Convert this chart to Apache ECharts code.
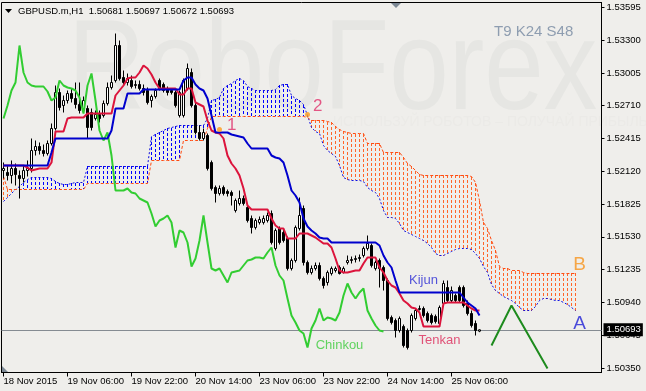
<!DOCTYPE html>
<html><head><meta charset="utf-8">
<script src="https://cdn.jsdelivr.net/npm/echarts@6/dist/echarts.min.js"></script>
<style>html,body{margin:0;padding:0;background:#efeeeb}#c{width:646px;height:391px}</style>
</head><body><div id="c"></div>
<script>
// ---------- data ----------
const barCount = 150;
const categories = Array.from({length: barCount}, (_, i) => String(i));
const timeTickIndex = [0, 16, 32, 48, 64, 80, 96, 112];
const timeTickLabels = ['18 Nov 2015', '19 Nov 06:00', '19 Nov 22:00', '20 Nov 14:00', '23 Nov 06:00', '23 Nov 22:00', '24 Nov 14:00', '25 Nov 06:00'];
const priceTicks = [1.50350, 1.50645, 1.50940, 1.51235, 1.51530, 1.51825, 1.52120, 1.52415, 1.52710, 1.53005, 1.53300, 1.53595];
const lastPrice = 1.50693;

// [open, close, low, high]
const ohlc = [
[1.52127,1.52145,1.52055,1.52199],[1.52109,1.52082,1.52037,1.52172],[1.52082,1.52145,1.52010,1.52217],[1.52145,1.52091,1.51992,1.52190],
[1.52082,1.52055,1.51875,1.52127],[1.52055,1.52127,1.52019,1.52172],[1.52127,1.52145,1.52073,1.52217],[1.52145,1.52307,1.52109,1.52415],
[1.52307,1.52343,1.52262,1.52397],[1.52343,1.52307,1.52271,1.52379],[1.52307,1.52280,1.52253,1.52361],[1.52280,1.52370,1.52262,1.52397],
[1.52370,1.52505,1.52352,1.52550],[1.52505,1.52829,1.52487,1.52892],[1.52829,1.52694,1.52667,1.52865],[1.52712,1.52757,1.52649,1.52802],
[1.52757,1.52820,1.52730,1.52847],[1.52820,1.52775,1.52739,1.52865],[1.52775,1.52721,1.52685,1.52919],[1.52721,1.52667,1.52640,1.52919],
[1.52685,1.52757,1.52649,1.52793],[1.52685,1.52514,1.52415,1.52712],[1.52649,1.52514,1.52487,1.52685],[1.52595,1.52631,1.52577,1.52667],
[1.52631,1.52595,1.52559,1.52667],[1.52622,1.52730,1.52604,1.52757],[1.52730,1.52874,1.52712,1.52919],[1.52874,1.52919,1.52856,1.52982],
[1.52937,1.53252,1.52919,1.53360],[1.53252,1.52955,1.52937,1.53297],[1.52964,1.52919,1.52892,1.53027],[1.52919,1.52955,1.52892,1.53000],
[1.52937,1.52883,1.52865,1.52982],[1.52892,1.52901,1.52865,1.52937],[1.52901,1.52865,1.52847,1.52937],[1.52865,1.52829,1.52802,1.52901],
[1.52847,1.52739,1.52721,1.52874],[1.52757,1.52793,1.52694,1.52811],[1.52793,1.52847,1.52775,1.52865],[1.52937,1.52865,1.52847,1.52955],
[1.52901,1.52847,1.52829,1.52919],[1.52865,1.52829,1.52802,1.52883],[1.52847,1.52829,1.52811,1.52865],[1.52829,1.52712,1.52694,1.52847],
[1.52622,1.52829,1.52604,1.52847],[1.52622,1.52937,1.52604,1.52955],[1.52865,1.53045,1.52847,1.53090],[1.53009,1.52712,1.52694,1.53045],
[1.52712,1.52469,1.52451,1.52739],[1.52469,1.52415,1.52397,1.52532],[1.52415,1.52469,1.52397,1.52505],[1.52442,1.52145,1.52127,1.52460],
[1.52199,1.51965,1.51947,1.52217],[1.51974,1.51920,1.51839,1.51992],[1.51920,1.51965,1.51902,1.51992],[1.51974,1.51920,1.51902,1.51992],
[1.51938,1.51920,1.51893,1.51956],[1.51929,1.51902,1.51812,1.51947],[1.51767,1.51857,1.51749,1.51875],[1.51830,1.51875,1.51812,1.51947],
[1.51875,1.51830,1.51812,1.51902],[1.51794,1.51677,1.51659,1.51812],[1.51695,1.51614,1.51560,1.51722],[1.51614,1.51677,1.51596,1.51695],
[1.51659,1.51686,1.51641,1.51713],[1.51659,1.51695,1.51641,1.51722],[1.51677,1.51722,1.51659,1.51749],[1.51740,1.51479,1.51461,1.51767],
[1.51425,1.51587,1.51407,1.51605],[1.51605,1.51479,1.51461,1.51623],[1.51569,1.51497,1.51479,1.51605],[1.51515,1.51245,1.51227,1.51533],
[1.51245,1.51317,1.51227,1.51335],[1.51317,1.51614,1.51299,1.51632],[1.51605,1.51722,1.51587,1.51884],[1.51785,1.51299,1.51272,1.51812],
[1.51299,1.51209,1.51191,1.51317],[1.51209,1.51245,1.51191,1.51272],[1.51245,1.51272,1.51227,1.51299],[1.51272,1.51155,1.51137,1.51299],
[1.51155,1.51092,1.51065,1.51173],[1.51119,1.51209,1.51092,1.51227],[1.51200,1.51245,1.51182,1.51263],[1.51227,1.51245,1.51209,1.51263],
[1.51254,1.51200,1.51191,1.51272],[1.51209,1.51245,1.51200,1.51263],[1.51299,1.51317,1.51281,1.51362],[1.51317,1.51326,1.51290,1.51353],
[1.51326,1.51335,1.51299,1.51362],[1.51335,1.51344,1.51308,1.51371],[1.51362,1.51425,1.51344,1.51443],[1.51425,1.51470,1.51407,1.51542],
[1.51452,1.51272,1.51254,1.51470],[1.51245,1.51299,1.51227,1.51317],[1.51317,1.51245,1.51074,1.51335],[1.51254,1.51137,1.51047,1.51272],
[1.51137,1.50795,1.50777,1.51155],[1.50804,1.50759,1.50741,1.50822],[1.50777,1.50687,1.50624,1.50795],[1.50687,1.50795,1.50669,1.50813],
[1.50723,1.50552,1.50534,1.50741],[1.50687,1.50534,1.50516,1.50705],[1.50687,1.50822,1.50669,1.50840],[1.50795,1.50867,1.50777,1.50885],
[1.50876,1.50885,1.50867,1.50912],[1.50885,1.50822,1.50804,1.50903],[1.50840,1.50777,1.50759,1.50858],[1.50822,1.50759,1.50741,1.50840],
[1.50813,1.50768,1.50750,1.50831],[1.50750,1.50894,1.50732,1.50912],[1.50930,1.51110,1.50912,1.51137],[1.51074,1.50957,1.50939,1.51137],
[1.50957,1.51047,1.50939,1.51083],[1.51002,1.50957,1.50939,1.51020],[1.51074,1.50957,1.50939,1.51092],[1.51074,1.50912,1.50894,1.51092],
[1.50930,1.50840,1.50822,1.50957],[1.50840,1.50732,1.50714,1.50867],[1.50750,1.50687,1.50642,1.50777],[1.50681,1.50693,1.50672,1.50697]
];

const tenkan = [
1.52172,1.52172,1.52172,1.52172,1.52172,1.52172,1.52154,1.52127,1.52136,1.52145,1.52145,1.52145,1.52199,1.52478,1.52478,1.52478,
1.52595,1.52604,1.52604,1.52604,1.52604,1.52640,1.52640,1.52640,1.52640,1.52640,1.52640,1.52640,1.52802,1.52847,1.52892,1.52955,
1.52964,1.52964,1.53009,1.53072,1.53045,1.52991,1.52919,1.52865,1.52865,1.52865,1.52865,1.52865,1.52811,1.52811,1.52865,1.52865,
1.52739,1.52721,1.52703,1.52577,1.52487,1.52469,1.52460,1.52415,1.52262,1.52190,1.52145,1.52082,1.51965,1.51812,1.51776,1.51776,
1.51776,1.51776,1.51776,1.51695,1.51632,1.51605,1.51605,1.51515,1.51515,1.51515,1.51560,1.51560,1.51560,1.51542,1.51524,1.51497,
1.51470,1.51470,1.51434,1.51335,1.51227,1.51209,1.51209,1.51218,1.51227,1.51227,1.51290,1.51344,1.51344,1.51344,1.51254,1.51209,
1.51137,1.51092,1.51074,1.51020,1.50957,1.50930,1.50894,1.50885,1.50849,1.50723,1.50723,1.50723,1.50723,1.50723,1.50930,1.50939,
1.50939,1.50939,1.50939,1.50939,1.50912,1.50885,1.50867,1.50867
];

const kijun = [
1.52172,1.52172,1.52172,1.52172,1.52172,1.52172,1.52172,1.52172,1.52172,1.52172,1.52172,1.52172,1.52289,1.52415,1.52415,1.52415,
1.52415,1.52415,1.52415,1.52415,1.52415,1.52415,1.52415,1.52415,1.52415,1.52415,1.52415,1.52487,1.52685,1.52685,1.52685,1.52820,
1.52820,1.52820,1.52820,1.52856,1.52856,1.52856,1.52856,1.52856,1.52856,1.52856,1.52856,1.52856,1.52856,1.52937,1.52964,1.52964,
1.52901,1.52865,1.52847,1.52775,1.52622,1.52469,1.52469,1.52469,1.52469,1.52451,1.52442,1.52433,1.52424,1.52370,1.52325,1.52325,
1.52325,1.52325,1.52325,1.52262,1.52244,1.52235,1.52199,1.52082,1.51947,1.51902,1.51839,1.51695,1.51623,1.51587,1.51560,1.51524,
1.51515,1.51515,1.51479,1.51479,1.51479,1.51479,1.51479,1.51479,1.51479,1.51479,1.51479,1.51479,1.51479,1.51479,1.51452,1.51362,
1.51299,1.51254,1.51137,1.51029,1.51029,1.51029,1.51029,1.51029,1.51029,1.51029,1.51029,1.51029,1.51029,1.51029,1.51029,1.51029,
1.51029,1.51029,1.51029,1.50984,1.50939,1.50912,1.50885,1.50822
];

const chinkou = [
1.52595,1.52712,1.52847,1.52919,1.53252,1.53009,1.52919,1.52892,1.52883,1.52883,1.52883,1.52838,1.52757,1.52784,1.52937,1.52892,
1.52874,1.52865,1.52847,1.52784,1.52640,1.52892,1.53000,1.52757,1.52487,1.52397,1.52469,1.52262,1.51947,1.51947,1.51947,1.51965,
1.51929,1.51920,1.51875,1.51857,1.51839,1.51740,1.51623,1.51677,1.51695,1.51722,1.51659,1.51434,1.51587,1.51569,1.51479,1.51263,
1.51335,1.51497,1.51722,1.51479,1.51245,1.51227,1.51245,1.51182,1.51119,1.51209,1.51218,1.51227,1.51272,1.51317,1.51326,1.51344,
1.51344,1.51335,1.51389,1.51434,1.51272,1.51182,1.51137,1.50975,1.50822,1.50759,1.50687,1.50660,1.50534,1.50705,1.50777,1.50885,
1.50777,1.50804,1.50795,1.50777,1.50849,1.51002,1.51110,1.51029,1.50975,1.51029,1.51065,1.50867,1.50795,1.50732,1.50687,1.50678
];

const spanA = [
1.51848,1.51884,1.51920,1.51956,1.51983,1.52019,1.52046,1.52064,1.52064,1.52064,1.52064,1.52064,1.52055,1.52028,1.52010,1.52001,
1.52001,1.52010,1.52019,1.52019,1.52019,1.52163,1.52163,1.52163,1.52163,1.52163,1.52163,1.52163,1.52163,1.52163,1.52163,1.52163,
1.52163,1.52163,1.52163,1.52163,1.52163,1.52433,1.52451,1.52469,1.52487,1.52505,1.52514,1.52523,1.52532,1.52532,1.52532,1.52532,
1.52532,1.52532,1.52532,1.52595,1.52757,1.52766,1.52784,1.52865,1.52892,1.52910,1.52937,1.52955,1.52937,1.52883,1.52865,1.52847,
1.52847,1.52847,1.52847,1.52847,1.52856,1.52892,1.52901,1.52901,1.52802,1.52775,1.52757,1.52721,1.52622,1.52514,1.52478,1.52460,
1.52352,1.52307,1.52280,1.52253,1.52172,1.52064,1.52046,1.52037,1.52037,1.52037,1.52028,1.51974,1.51947,1.51929,1.51875,1.51767,
1.51704,1.51704,1.51695,1.51650,1.51587,1.51569,1.51551,1.51533,1.51515,1.51497,1.51470,1.51434,1.51380,1.51362,1.51362,1.51380,
1.51398,1.51416,1.51425,1.51425,1.51425,1.51416,1.51380,1.51335,1.51263,1.51209,1.51101,1.51047,1.51020,1.50993,1.50975,1.50957,
1.50930,1.50894,1.50867,1.50867,1.50867,1.50903,1.50957,1.50975,1.50975,1.50966,1.50957,1.50957,1.50939,1.50921,1.50894,1.50867
];

const spanB = [
1.52073,1.51956,1.51956,1.51956,1.51956,1.51956,1.51956,1.51956,1.51956,1.51956,1.51956,1.51956,1.51956,1.51956,1.51956,1.51956,
1.51956,1.51956,1.51956,1.51956,1.51956,1.52010,1.52010,1.52010,1.52010,1.52010,1.52010,1.52010,1.52010,1.52010,1.52010,1.52010,
1.52010,1.52010,1.52010,1.52010,1.52010,1.52217,1.52217,1.52217,1.52217,1.52217,1.52217,1.52217,1.52217,1.52397,1.52397,1.52397,
1.52397,1.52397,1.52397,1.52505,1.52613,1.52613,1.52613,1.52613,1.52613,1.52613,1.52613,1.52613,1.52613,1.52613,1.52613,1.52613,
1.52613,1.52613,1.52613,1.52613,1.52613,1.52613,1.52613,1.52613,1.52613,1.52613,1.52613,1.52613,1.52604,1.52577,1.52577,1.52577,
1.52577,1.52568,1.52559,1.52523,1.52496,1.52478,1.52469,1.52460,1.52460,1.52460,1.52460,1.52370,1.52370,1.52370,1.52370,1.52289,
1.52289,1.52289,1.52289,1.52289,1.52244,1.52190,1.52163,1.52127,1.52091,1.52082,1.52082,1.52082,1.52082,1.52082,1.52082,1.52082,
1.52082,1.52082,1.52082,1.52082,1.52082,1.52073,1.52019,1.51857,1.51659,1.51605,1.51497,1.51407,1.51263,1.51245,1.51245,1.51227,
1.51227,1.51227,1.51209,1.51200,1.51200,1.51200,1.51200,1.51200,1.51200,1.51200,1.51200,1.51200,1.51200,1.51200,1.51200,1.51200
];

// hand-drawn forecast zigzag: [bar, price]
const forecast = [[122, 1.50552], [127, 1.50912], [136, 1.50345]];
// signal markers: [label, bar, price]
const signals = [['1', 54, 1.52496], ['2', 76, 1.52631]];
// text labels on the chart: [text, bar, price]
const notes = [['Kijun', 105, 1.51137], ['Tenkan', 109, 1.50597], ['Chinkou', 84, 1.50552], ['A', 144, 1.50750], ['B', 144, 1.51281]];

// ---------- chart ----------
const FONT = '"Liberation Sans", Arial, sans-serif';
const tickMap = new Map(timeTickIndex.map((idx, k) => [idx, timeTickLabels[k]]));
const noteColors = {Kijun: '#2a2ad4', Tenkan: '#dc2a5a', Chinkou: '#3ccc3c', A: '#2020d6', B: '#f7941d'};
const noteSizes = {Kijun: 13, Tenkan: 13, Chinkou: 13, A: 19, B: 19};

const chart = echarts.init(document.getElementById('c'), null, {renderer: 'canvas'});
const option = {
  animation: false,
  backgroundColor: '#efeeeb',
  textStyle: {fontFamily: FONT},
  grid: {left: 1.5, right: 44.5, top: 2.5, bottom: 18.5, show: true, borderColor: '#000', borderWidth: 1, backgroundColor: 'transparent'},
  xAxis: {
    type: 'category', data: categories, boundaryGap: true,
    axisLine: {show: true, lineStyle: {color: '#000', width: 1}},
    axisTick: {show: true, alignWithLabel: true, length: 4, interval: (i) => tickMap.has(i), lineStyle: {color: '#000'}},
    axisLabel: {interval: (i) => tickMap.has(i), formatter: (v, i) => tickMap.get(i) || '', align: 'left', margin: 4, color: '#000', fontSize: 9.5, fontFamily: FONT},
    splitLine: {show: false}
  },
  yAxis: {
    type: 'value', position: 'right', min: 1.50309, max: 1.53639,
    axisLine: {show: true, lineStyle: {color: '#000'}},
    axisTick: {show: true, length: 3, customValues: priceTicks, lineStyle: {color: '#000'}},
    axisLabel: {customValues: priceTicks, formatter: (v) => v.toFixed(5), color: '#000', fontSize: 9.5, margin: 5, fontFamily: FONT},
    splitLine: {show: false}
  },
  graphic: [
    {type: 'text', x: 68, y: 138, scaleY: 1.2, z: -10, silent: true,
     style: {text: 'RoboForex', font: '107px "Liberation Sans", Arial, sans-serif', fill: '#e6e6e3', verticalAlign: 'bottom'}},
    {type: 'text', x: 333, y: 122, z: -10, silent: true,
     style: {text: 'ИСПОЛЬЗУЙ РОБОТОВ – ПОЛУЧАЙ ПРИБЫЛЬ', font: '14px "Liberation Sans", Arial, sans-serif', fill: '#ebeae7', verticalAlign: 'middle'}},
    {type: 'polygon', shape: {points: [[5, 9], [12, 9], [8.5, 13]]}, style: {fill: '#000'}, silent: true},
    {type: 'text', x: 18, y: 11, silent: true,
     style: {text: 'GBPUSD.m,H1  1.50681 1.50697 1.50672 1.50693', font: '9.5px "Liberation Sans", Arial, sans-serif', fill: '#000', verticalAlign: 'middle'}},
    {type: 'text', x: 494, y: 32, silent: true,
     style: {text: 'T9 K24 S48', font: '15px "Liberation Sans", Arial, sans-serif', fill: '#8e9db0', verticalAlign: 'middle'}},
    {type: 'polygon', shape: {points: [[391, 3], [401, 3], [396, 8]]}, style: {fill: '#7c8894'}, silent: true},
    {type: 'polygon', shape: {points: [[2, 366], [2, 372], [8, 372]]}, style: {fill: '#7c8894'}, silent: true}
  ],
  series: [
    {
      name: 'kumo', type: 'custom', z: 3, silent: true,
      data: spanA.map((a, i) => [i, a, spanB[i]]),
      encode: {x: 0, y: [1, 2]},
      renderItem: (params, api) => {
        const i = api.value(0), a = api.value(1), b = api.value(2);
        const p1 = api.coord([i, a]), p2 = api.coord([i, b]);
        const x = Math.round(p1[0] - 0.5);
        const yTop = Math.round(Math.min(p1[1], p2[1])), yBot = Math.round(Math.max(p1[1], p2[1]));
        const color = a >= b ? '#0000ff' : '#ff6428';
        const dashes = [];
        for (let y = yTop; y < yBot; y += 5) {
          dashes.push({type: 'rect', shape: {x: x, y: y, width: 1, height: Math.min(3, yBot - y)}, style: {fill: color}});
        }
        return {type: 'group', children: dashes};
      }
    },
    {name: 'Senkou A', type: 'line', data: spanA, z: 4, symbol: 'none', silent: true,
     lineStyle: {color: '#1010e0', width: 1, type: [2, 2]}},
    {name: 'Senkou B', type: 'line', data: spanB, z: 4, symbol: 'none', silent: true,
     lineStyle: {color: '#ff4a10', width: 1, type: [3, 2]}},
    {
      name: 'GBPUSD', type: 'candlestick', data: ohlc, z: 5, barWidth: 3, silent: true,
      itemStyle: {color: '#ffffff', color0: '#000000', borderColor: '#000000', borderColor0: '#000000', borderWidth: 1},
      markLine: {
        silent: true, symbol: ['none', 'none'], animation: false, precision: 5,
        lineStyle: {color: '#858b92', width: 1, type: 'solid'},
        label: {show: true, position: 'end', formatter: lastPrice.toFixed(5), color: '#fff', backgroundColor: '#000',
                padding: [2, 2, 1, 3], fontSize: 9.5, fontFamily: FONT, distance: 2},
        data: [{yAxis: lastPrice}]
      }
    },
    {name: 'Chinkou', type: 'line', data: chinkou, z: 6, symbol: 'none', silent: true, lineStyle: {color: '#32cd32', width: 2}},
    {name: 'Tenkan', type: 'line', data: tenkan, z: 7, symbol: 'none', silent: true, lineStyle: {color: '#dc143c', width: 2}},
    {name: 'Kijun', type: 'line', data: kijun, z: 7, symbol: 'none', silent: true, lineStyle: {color: '#0000cd', width: 2}},
    {name: 'forecast', type: 'line', data: forecast, z: 7, symbol: 'none', silent: true, lineStyle: {color: '#1e8b1e', width: 2}},
    {
      name: 'signals', type: 'scatter', z: 8, silent: true, symbol: 'circle', symbolSize: 5,
      itemStyle: {color: '#ff9b1a'},
      data: signals.map(([t, i, p]) => ({name: t, value: [i, p],
        label: {show: true, formatter: t, position: 'right', distance: t === '1' ? 5 : 3, offset: [0, t === '1' ? -4 : -8],
                color: '#e0306a', fontSize: 17, fontFamily: FONT}}))
    },
    {
      name: 'notes', type: 'scatter', z: 8, silent: true, symbolSize: 0,
      data: notes.map(([t, i, p]) => ({name: t, value: [i, p],
        label: {show: true, formatter: t, position: 'inside', color: noteColors[t], fontSize: noteSizes[t], fontFamily: FONT}}))
    }
  ]
};
chart.setOption(option);
</script>
</body></html>
